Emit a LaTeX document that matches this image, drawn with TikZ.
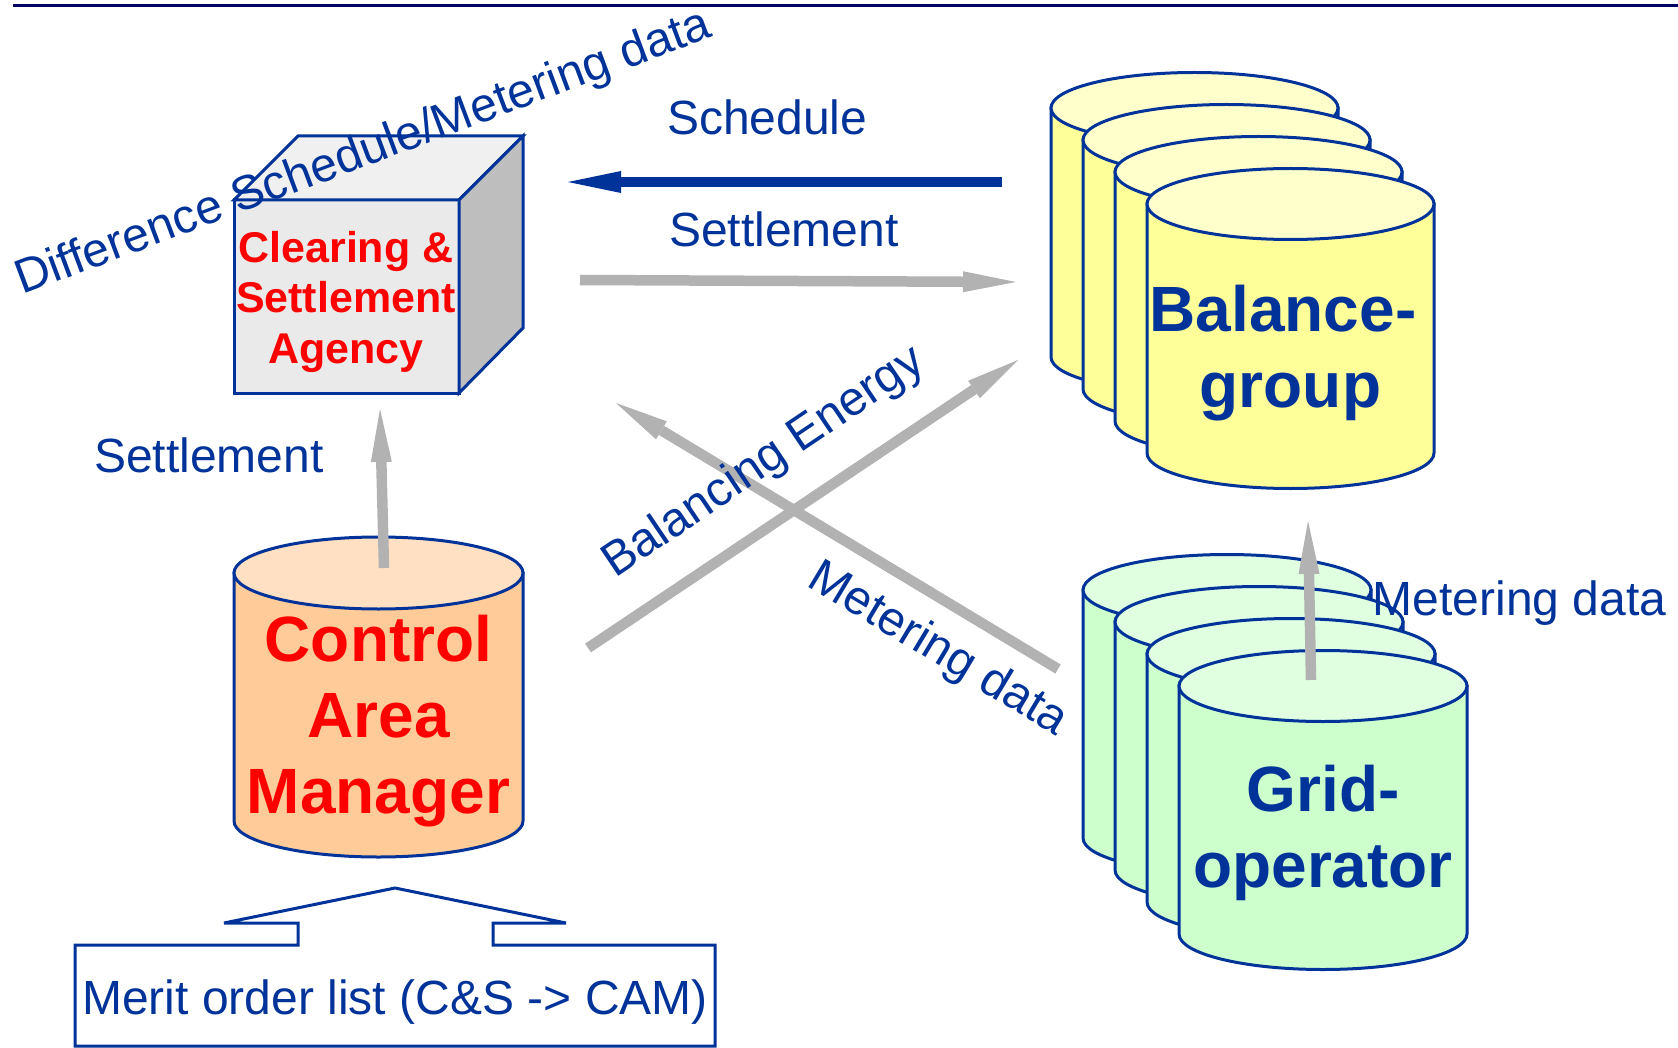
\documentclass[tikz,border=0pt]{standalone}
\usepackage{fontspec}
\setmainfont{Liberation Sans}
\usetikzlibrary{arrows.meta}
\definecolor{navy}{HTML}{003399}
\definecolor{topline}{HTML}{000066}
\definecolor{arrgray}{HTML}{B2B2B2}
\definecolor{cubefront}{HTML}{EAEAEA}
\definecolor{cubetop}{HTML}{F0F0F0}
\definecolor{cubeside}{HTML}{BEBEBE}
\definecolor{bgbody}{HTML}{FFFF99}
\definecolor{bgtop}{HTML}{FFFFCC}
\definecolor{gobody}{HTML}{CCFFCC}
\definecolor{gotop}{HTML}{E0FFE0}
\definecolor{cambody}{HTML}{FFCC99}
\definecolor{camtop}{HTML}{FFE0C2}
\definecolor{txtred}{HTML}{FF0000}
\newcommand\mycyl[7]{%
  \filldraw[cylline, fill=#6] ({#1-#3},#2) -- ({#1-#3},{#2+#5})
     arc[start angle=180, end angle=0, x radius=#3, y radius=#4] -- ({#1+#3},#2) -- cycle;
  \filldraw[cylline, fill=#7] (#1,#2) ellipse[x radius=#3, y radius=#4];
}
\tikzset{
  cylline/.style={draw=navy, line width=3pt},
  cubeline/.style={draw=navy, line width=3pt, line join=miter},
  lbl/.style={font=\fontsize{48}{57}\selectfont, text=navy, inner sep=0pt, anchor=base west},
  bigtext/.style={font=\bfseries\fontsize{64}{76}\selectfont, align=center, inner sep=0pt},
  cubetext/.style={font=\bfseries\fontsize{43}{50.5}\selectfont, align=center, inner sep=0pt, text=txtred},
  grayarrow/.style={draw=arrgray, line width=10.5pt, -{Triangle[length=53pt, width=21pt, line width=0pt]}},
  bluearrow/.style={draw=navy, line width=10.5pt, -{Triangle[length=53pt, width=22pt, line width=0pt]}},
}
\begin{document}
\begin{tikzpicture}[x=1pt, y=-1pt]
\useasboundingbox (0,0) rectangle (1678,1048);
% top rule
\draw[topline, line width=3pt] (13,5.5) -- (1678,5.5);

% Clearing & Settlement cube
\filldraw[cubeline, fill=cubefront] (234,200) rectangle (459,393);
\filldraw[cubeline, fill=cubetop] (234,200) -- (298,136) -- (523,136) -- (459,200) -- cycle;
\filldraw[cubeline, fill=cubeside] (459,200) -- (523,136) -- (523,328) -- (459,393) -- cycle;
\node[cubetext] (csa) at (346,301.5) {Clearing \&\\Settlement\\Agency};

% Balance-group stack
\mycyl{1194.5}{108}{143.5}{35.5}{249}{bgbody}{bgtop}
\mycyl{1226.5}{140}{143.5}{35.5}{249}{bgbody}{bgtop}
\mycyl{1258.5}{172}{143.5}{35.5}{249}{bgbody}{bgtop}
\mycyl{1290.5}{204}{143.5}{35.5}{249}{bgbody}{bgtop}
\node[bigtext, text=navy] (bg) at (1290.5,353.5) {Balance-\kern15pt\\group};

% Grid-operator stack
\mycyl{1227}{590}{144}{35.5}{248}{gobody}{gotop}
\mycyl{1259}{622}{144}{35.5}{248}{gobody}{gotop}
\mycyl{1291}{654}{144}{35.5}{248}{gobody}{gotop}
\mycyl{1323}{686}{144}{35.5}{248}{gobody}{gotop}
\node[bigtext, text=navy] (go) at (1323,832.5) {Grid-\\operator};

% Control Area Manager
\mycyl{378.5}{573}{144.5}{36}{248}{cambody}{camtop}
\node[bigtext, text=txtred] (cam) at (378.5,721.5) {Control\\Area\\Manager};

% Merit order list callout
\draw[navy, line width=3pt, fill=white, line join=miter, miter limit=4]
  (75,1046) -- (75,945) -- (298,945) -- (298,923) -- (224,923) -- (395,888)
  -- (566,923) -- (493,923) -- (493,945) -- (715,945) -- (715,1046) -- cycle;
\node[font=\fontsize{48}{57}\selectfont, text=navy, inner sep=0pt, anchor=base] (merit) at (395,1014) {Merit order list (C\&S -> CAM)};

% connector end points
\coordinate (schA) at (1002,182);
\coordinate (schB) at (568,182);
\coordinate (setA) at (580,280);
\coordinate (setB) at (1016,282);
\coordinate (camA) at (384,568);
\coordinate (camB) at (380,409);
\coordinate (balA) at (588,648);
\coordinate (balB) at (1018,360);
\coordinate (metA) at (1058,669);
\coordinate (metB) at (616,403);
\coordinate (gridA) at (1311,680);
\coordinate (gridB) at (1308,521);

% connectors
\draw[bluearrow] (schA) -- (schB);
\draw[grayarrow] (setA) -- (setB);
\draw[grayarrow] (camA) -- (camB);
\draw[grayarrow] (balA) -- (balB);
\draw[grayarrow] (metA) -- (metB);
\draw[grayarrow] (gridA) -- (gridB);

% labels
\node[lbl] (lsched) at (667,135) {Schedule};
\node[lbl] (lsett1) at (669,247) {Settlement};
\node[lbl] (lsett2) at (94,472) {Settlement};
\node[lbl] (lmet2) at (1372.5,615) {Metering data};
\node[lbl, rotate=20.5] (ldiff) at (22,295) {Difference Schedule/Metering data};
\node[lbl, rotate=34] (lbal) at (615,579) {Balancing Energy};
\node[lbl, rotate=-31] (lmet1) at (805,585) {Metering data};
\end{tikzpicture}
\end{document}
